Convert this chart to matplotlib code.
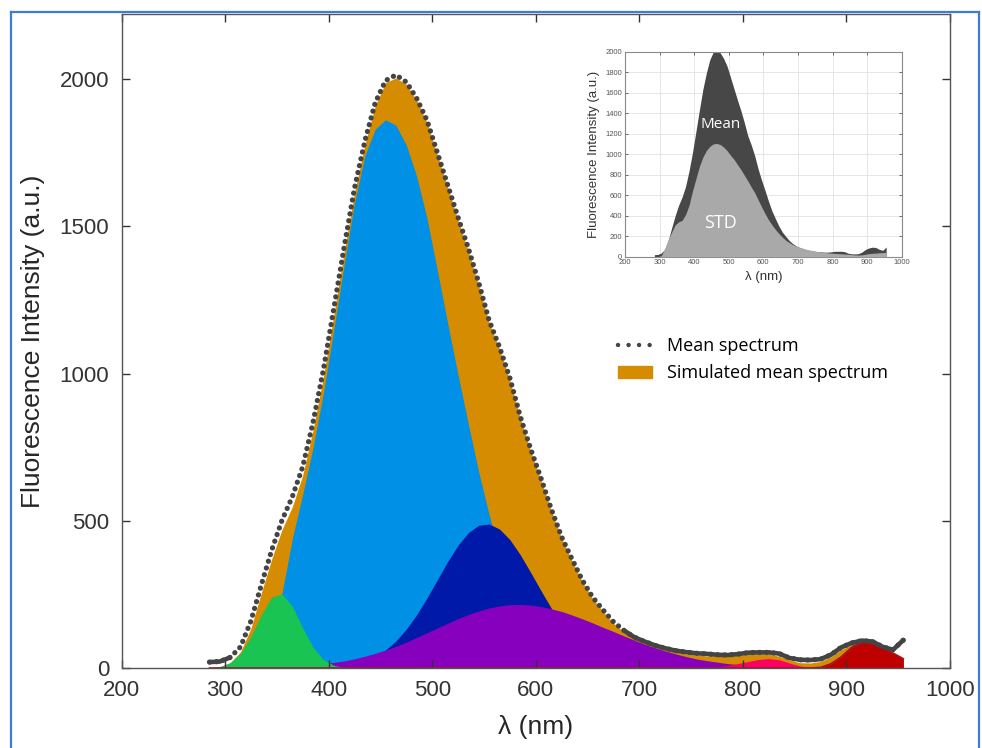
import matplotlib
matplotlib.use("Agg")
import matplotlib.pyplot as plt
import numpy as np
from matplotlib.lines import Line2D
from matplotlib.patches import Patch

plt.rcParams['font.family'] = ['Liberation Sans', 'DejaVu Sans']

# wavelength grid (nm)
wl = np.arange(285, 956, 10)

mean_spec = [20, 22, 36, 72, 160, 282, 400, 502, 582, 684,
             835, 1014, 1221, 1430, 1630, 1790, 1920, 1995, 2014, 1990,
             1935, 1860, 1750, 1640, 1530, 1425, 1308, 1180, 1090, 985,
             855, 745, 645, 540, 445, 370, 298, 240, 197, 157,
             128, 105, 90, 77, 67, 59, 54, 50, 48, 45,
             44, 47, 52, 53, 53, 49, 34, 28, 27, 30,
             45, 70, 85, 93, 90, 72, 62, 95]

simulated = [0, 4, 18, 55, 135, 255, 370, 470, 548, 655,
             810, 990, 1200, 1415, 1615, 1778, 1910, 1988, 2004, 1982,
             1928, 1852, 1742, 1632, 1520, 1415, 1296, 1172, 1082, 977,
             848, 738, 638, 534, 440, 364, 293, 235, 192, 152,
             123, 100, 85, 72, 62, 54, 48, 44, 41, 40,
             40, 42, 46, 48, 47, 40, 27, 18, 17, 22,
             38, 62, 80, 90, 88, 72, 55, 35]

std_spec = [0, 0, 10, 80, 170, 240, 310, 340, 355, 410,
            500, 640, 760, 880, 970, 1035, 1075, 1100, 1105, 1095,
            1070, 1035, 990, 950, 900, 850, 795, 740, 680, 625,
            555, 485, 420, 360, 310, 265, 225, 190, 160, 138,
            118, 103, 92, 82, 72, 65, 58, 52, 47, 42,
            38, 35, 32, 30, 28, 26, 24, 20, 17, 16,
            18, 24, 30, 33, 35, 38, 40, 42]

# fitted components: (first wavelength, values every 10 nm)
green_start, green = 295, [5, 18, 50, 107, 181, 241, 252, 209, 136, 70, 28, 9, 2, 0]
lblue_start, lblue = 315, [15, 45, 95, 160, 255, 440, 590, 750, 935, 1150,
                           1370, 1580, 1740, 1830, 1862, 1843, 1776, 1670, 1527, 1350,
                           1170, 995, 827, 665, 520, 397, 296, 214, 151, 104,
                           70, 46, 30, 19, 12, 7, 4, 2, 0]
dblue_start, dblue = 455, [61, 92, 132, 181, 238, 300, 362, 417, 460, 485,
                           489, 472, 436, 385, 325, 263, 203, 151, 107, 72,
                           47, 29, 17, 0]
purple_start, purple = 375, [7, 10, 14, 19, 24, 31, 40, 50, 61, 74,
                             88, 104, 120, 136, 152, 168, 182, 194, 204, 211,
                             215, 216, 214, 209, 201, 192, 180, 167, 153, 138,
                             124, 109, 95, 81, 69, 58, 48, 39, 31, 25,
                             20, 15, 12, 9, 6, 4, 2, 0]
pink_start, pink = 755, [1, 2, 4, 8, 15, 22, 29, 32, 28, 17, 7, 2, 0]
red_start, red = 875, [2, 14, 38, 70, 89, 84, 69, 50, 31]


def on_grid(start, vals):
    out = np.zeros(len(wl))
    i = int((start - wl[0]) // 10)
    out[i:i + len(vals)] = vals
    return out


fig = plt.figure(figsize=(9.82, 7.48), dpi=100)
ax = fig.add_axes([121.5 / 982, 80 / 748, 828.5 / 982, 654 / 748])

ax.fill_between(wl, simulated, color='#d68c00', lw=0)
ax.fill_between(wl, on_grid(lblue_start, lblue), color='#0091e6', lw=0)
ax.fill_between(wl, on_grid(dblue_start, dblue), color='#0019a8', lw=0)
ax.fill_between(wl, on_grid(purple_start, purple), color='#8600be', lw=0)
ax.fill_between(wl, on_grid(green_start, green), color='#19c452', lw=0)
ax.fill_between(wl, on_grid(pink_start, pink), color='#ff0062', lw=0)
red_full = on_grid(red_start, red)
ax.fill_between(wl, red_full, color='#bf0000', lw=0)
ax.plot(wl, red_full, color='#a3102a', lw=1.2)

# mean spectrum: dotted, merging into a solid line on the flat parts
ax.plot(wl, mean_spec, color='#444444', lw=3.8, linestyle=(0, (0.01, 1.32)),
        dash_capstyle='round', zorder=5)
flat = wl >= 685
ax.plot(wl[flat], np.array(mean_spec)[flat], color='#444444', lw=3.3, zorder=5,
        solid_capstyle='round')
flat = wl <= 305
ax.plot(wl[flat], np.array(mean_spec)[flat], color='#444444', lw=3.3, zorder=5,
        solid_capstyle='round')

ax.set_xlim(200, 1000)
ax.set_ylim(0, 2221)
ax.set_xticks(range(200, 1001, 100))
ax.set_yticks([0, 500, 1000, 1500, 2000])
ax.tick_params(direction='in', length=6, width=1, colors='#333333', labelsize=16,
               top=True, right=True, pad=9)
for s in ax.spines.values():
    s.set_color('#555555')
    s.set_linewidth(1)
ax.set_xlabel('λ (nm)', fontsize=19, color='#262626', labelpad=10)
ax.set_ylabel('Fluorescence Intensity (a.u.)', fontsize=19, color='#262626', labelpad=10)

handles = [Line2D([], [], color='#444444', lw=3.2, linestyle=(0, (0.01, 2.36)),
                  dash_capstyle='round'),
           Patch(color='#d68c00')]
fig.legend(handles, ['Mean spectrum', 'Simulated mean spectrum'],
           loc='upper left', bbox_to_anchor=(618 / 982, 1 - 337 / 748),
           frameon=False, borderpad=0, borderaxespad=0, handlelength=1.9,
           handletextpad=0.8, labelspacing=0.52,
           prop={'family': ['Open Sans', 'DejaVu Sans'], 'size': 13})

# inset: mean and standard deviation
axi = fig.add_axes([625 / 982, 1 - 256.7 / 748, 276.7 / 982, 205 / 748])
axi.fill_between(wl, mean_spec, color='#474747', lw=0, zorder=2)
axi.fill_between(wl, std_spec, color='#a9a9a9', lw=0, zorder=3)
axi.set_xlim(200, 1000)
axi.set_ylim(0, 2000)
axi.set_xticks(range(200, 1001, 100))
axi.set_yticks(range(0, 2001, 200))
axi.grid(color='#e2e2e2', lw=0.6, zorder=0)
axi.set_axisbelow(True)
axi.tick_params(direction='in', length=2, width=0.6, colors='#555555', labelsize=5.5,
                top=True, right=True, pad=2)
for s in axi.spines.values():
    s.set_color('#8a8a8a')
    s.set_linewidth(0.8)
axi.set_xlabel('λ (nm)', fontsize=9.5, color='#333333', labelpad=3)
axi.set_ylabel('Fluorescence Intensity (a.u.)', fontsize=9.5, color='#333333', labelpad=4)
axi.text(477, 1285, 'Mean', color='white', fontsize=11, ha='center', va='center',
         family=['Open Sans', 'DejaVu Sans'], zorder=4)
axi.text(475, 330, 'STD', color='white', fontsize=13, ha='center', va='center',
         family=['Open Sans', 'DejaVu Sans'], zorder=4)

# blue frame around the panel
frame = dict(color='#3f7bd4', lw=1.6, transform=fig.transFigure)
fig.add_artist(Line2D([11 / 982, 11 / 982], [0, 1 - 12 / 748], **frame))
fig.add_artist(Line2D([11 / 982, 979 / 982], [1 - 12 / 748, 1 - 12 / 748], **frame))
fig.add_artist(Line2D([979 / 982, 979 / 982], [0, 1 - 12 / 748], **frame))

fig.savefig('out.png', dpi=100)
